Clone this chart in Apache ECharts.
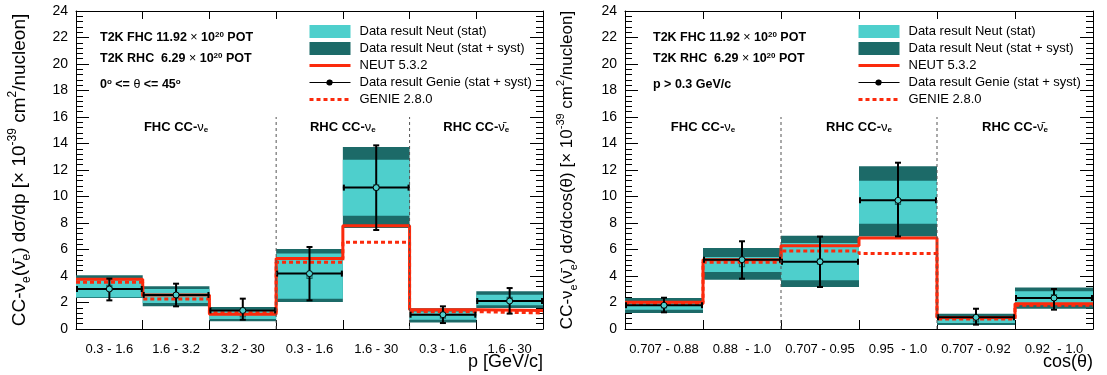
<!DOCTYPE html>
<html>
<head>
<meta charset="utf-8">
<script src="https://cdn.jsdelivr.net/npm/echarts@6/dist/echarts.min.js"></script>
<style>
  html, body { margin: 0; padding: 0; background: #fff; }
  #chart { width: 1107px; height: 375px; }
</style>
</head>
<body>
<div id="chart"></div>
<script>
// ---- momentum bins ----
const pLabels = ['0.3 - 1.6', '1.6 - 3.2', '3.2 - 30', '0.3 - 1.6', '1.6 - 30', '0.3 - 1.6', '1.6 - 30'];
const pNeutCentral = [3.10, 2.50, 1.10, 4.00, 10.70, 1.00, 2.20];
const pStatLow  = [2.40, 1.96, 0.75, 2.29, 8.55, 0.70, 1.79];
const pStatHigh = [3.80, 3.02, 1.46, 5.69, 12.78, 1.33, 2.59];
const pSystLow  = [2.34, 1.71, 0.58, 2.04, 7.62, 0.50, 1.58];
const pSystHigh = [4.05, 3.22, 1.66, 6.04, 13.74, 1.56, 2.84];
const pGenieCentral = [3.02, 2.57, 1.40, 4.18, 10.67, 1.08, 2.11];
const pGenieLow  = [2.16, 1.71, 0.70, 2.16, 7.47, 0.45, 1.16];
const pGenieHigh = [3.80, 3.42, 2.29, 6.19, 13.86, 1.71, 3.09];
const pNeutMC  = [3.75, 2.57, 1.12, 5.33, 7.80, 1.46, 1.40];
const pGenieMC = [3.52, 2.26, 1.22, 5.03, 6.54, 1.31, 1.21];
const pRegions = [[0, 3], [3, 5], [5, 7]];
const pSeparators = [3, 5];

// ---- cos(theta) bins ----
const cLabels = ['0.707 - 0.88', '0.88  - 1.0', '0.707 - 0.95', '0.95  - 1.0', '0.707 - 0.92', '0.92  - 1.0'];
const cNeutCentral = [1.78, 4.90, 5.08, 9.60, 0.72, 2.40];
const cStatLow  = [1.46, 4.30, 3.67, 7.95, 0.45, 1.96];
const cStatHigh = [2.09, 5.43, 6.49, 11.19, 0.96, 2.84];
const cSystLow  = [1.21, 3.72, 3.17, 6.99, 0.30, 1.53];
const cSystHigh = [2.34, 6.11, 7.04, 12.28, 1.16, 3.14];
const cGenieCentral = [1.79, 5.23, 5.08, 9.71, 0.88, 2.34];
const cGenieLow  = [1.26, 3.80, 3.17, 6.99, 0.33, 1.46];
const cGenieHigh = [2.36, 6.62, 6.97, 12.55, 1.53, 3.02];
const cNeutMC  = [2.01, 5.23, 6.29, 6.87, 0.86, 1.91];
const cGenieMC = [1.91, 5.03, 5.89, 5.69, 0.75, 1.79];
const cRegions = [[0, 2], [2, 4], [4, 6]];
const cSeparators = [2, 4];

// ---- shared ----
const sampleNames = ['FHC CC-{nu|ν}{s|e}', 'RHC CC-{nu|ν}{s|e}', 'RHC CC-{nu|ν̄}{s|e}'];
const separatorTop = 16;
const regionLabelY = 15.2;
const yMin = 0, yMax = 24, yStep = 2;

const FONT = '"Liberation Sans", Arial, Helvetica, sans-serif';
const LIGHT = '#4ecfcc';
const DARK = '#1c6a68';
const RED = '#fb2a0c';

const NAMES = {
  stat: 'Data result Neut (stat)',
  syst: 'Data result Neut (stat + syst)',
  neut: 'NEUT 5.3.2',
  genieData: 'Data result Genie (stat + syst)',
  genie: 'GENIE 2.8.0'
};

const panels = [
  {
    labels: pLabels, neut: pNeutCentral, statLow: pStatLow, statHigh: pStatHigh,
    systLow: pSystLow, systHigh: pSystHigh, gc: pGenieCentral, gl: pGenieLow, gh: pGenieHigh,
    neutMC: pNeutMC, genieMC: pGenieMC, regions: pRegions, seps: pSeparators,
    grid: { left: 76, right: 564, top: 11, bottom: 46 },
    xName: 'p [GeV/c]',
    yName: 'CC-{nu|ν}{sub|e}({nu|ν̄}{sub|e}) dσ/dp [× 10{sup|-39} cm{sup|2}/nucleon]',
    yFont: 19, yGap: 43,
    legendLeft: 303, infoLeft: 100,
    cut: '0{sup|o} <= {th|θ} <= 45{sup|o}'
  },
  {
    labels: cLabels, neut: cNeutCentral, statLow: cStatLow, statHigh: cStatHigh,
    systLow: cSystLow, systHigh: cSystHigh, gc: cGenieCentral, gl: cGenieLow, gh: cGenieHigh,
    neutMC: cNeutMC, genieMC: cGenieMC, regions: cRegions, seps: cSeparators,
    grid: { left: 625, right: 14, top: 11, bottom: 46 },
    xName: 'cos(θ)',
    yName: 'CC-{nu|ν}{sub|e}({nu|ν̄}{sub|e}) dσ/dcos(θ) [× 10{sup|-39} cm{sup|2}/nucleon]',
    yFont: 17, yGap: 46,
    legendLeft: 852, infoLeft: 653,
    cut: 'p > 0.3 GeV/c'
  }
];

const grids = [], xAxes = [], yAxes = [], series = [], legends = [], graphics = [];

function boxRenderer(fill, withMarker) {
  return function (params, api) {
    const i = api.value(0);
    const tl = api.coord([i, api.value(2)]);
    const br = api.coord([i + 1, api.value(1)]);
    const children = [{
      type: 'rect',
      shape: { x: tl[0], y: tl[1], width: br[0] - tl[0], height: br[1] - tl[1] },
      style: { fill: fill }
    }];
    if (withMarker) {
      const c = api.coord([i + 0.5, api.value(3)]);
      children.push({
        type: 'rect',
        shape: { x: c[0] - 2.5, y: c[1] - 2.5, width: 5, height: 5 },
        style: { fill: LIGHT, stroke: DARK, lineWidth: 1.2 }
      });
    }
    return { type: 'group', children: children };
  };
}

function errorRenderer(params, api) {
  const i = api.value(0);
  const v = api.value(1);
  const l = api.coord([i, v]);
  const r = api.coord([i + 1, v]);
  const lo = api.coord([i + 0.5, api.value(2)]);
  const hi = api.coord([i + 0.5, api.value(3)]);
  const st = { stroke: '#000', lineWidth: 2 };
  const cap = 3;
  return {
    type: 'group',
    children: [
      { type: 'line', shape: { x1: l[0], y1: l[1], x2: r[0], y2: r[1] }, style: st },
      { type: 'line', shape: { x1: lo[0], y1: lo[1], x2: hi[0], y2: hi[1] }, style: st },
      { type: 'line', shape: { x1: lo[0] - cap, y1: lo[1], x2: lo[0] + cap, y2: lo[1] }, style: st },
      { type: 'line', shape: { x1: hi[0] - cap, y1: hi[1], x2: hi[0] + cap, y2: hi[1] }, style: st },
      { type: 'line', shape: { x1: l[0] + 1, y1: l[1] - cap, x2: l[0] + 1, y2: l[1] + cap }, style: st },
      { type: 'line', shape: { x1: r[0] - 1, y1: r[1] - cap, x2: r[0] - 1, y2: r[1] + cap }, style: st },
      { type: 'circle', shape: { cx: lo[0], cy: l[1], r: 3 }, style: { fill: LIGHT, stroke: '#000', lineWidth: 1 } }
    ]
  };
}

function stepData(vals) {
  const d = vals.map((v, i) => [i, v]);
  d.push([vals.length, vals[vals.length - 1]]);
  return d;
}

const tickStyle = { color: '#000', width: 1 };
const regionRich = {
  nu: { fontFamily: FONT, fontSize: 13, fontWeight: 'normal', color: '#000' },
  s: { fontFamily: FONT, fontSize: 8, fontWeight: 'bold', color: '#000', verticalAlign: 'bottom', lineHeight: 12 }
};

panels.forEach((P, g) => {
  const N = P.labels.length;
  grids.push(Object.assign({ containLabel: false }, P.grid));
  const xb = xAxes.length;
  // bottom value axis (bin edges)
  xAxes.push({
    type: 'value', gridIndex: g, min: 0, max: N, interval: 1, position: 'bottom',
    axisLine: { show: true, onZero: false, lineStyle: tickStyle },
    axisTick: { show: true, inside: true, length: 9, lineStyle: tickStyle },
    axisLabel: { show: false }, splitLine: { show: false },
    name: P.xName, nameLocation: 'end', nameGap: 0,
    nameTextStyle: { fontFamily: FONT, fontSize: 18, color: '#000', align: 'right', verticalAlign: 'top', padding: [24, 0, 0, 0] }
  });
  // bin labels
  xAxes.push({
    type: 'category', gridIndex: g, data: P.labels, position: 'bottom', boundaryGap: true,
    axisLine: { show: false }, axisTick: { show: false },
    axisLabel: { fontFamily: FONT, fontSize: 13, color: '#000', margin: 14, interval: 0 }
  });
  // top frame
  xAxes.push({
    type: 'value', gridIndex: g, min: 0, max: N, interval: 1, position: 'top',
    axisLine: { show: true, onZero: false, lineStyle: tickStyle },
    axisTick: { show: true, inside: true, length: 8, lineStyle: tickStyle },
    axisLabel: { show: false }, splitLine: { show: false }
  });
  const yl = yAxes.length;
  const subSize = Math.round(P.yFont * 0.62);
  yAxes.push({
    type: 'value', gridIndex: g, min: yMin, max: yMax, interval: yStep, position: 'left',
    axisLine: { show: true, onZero: false, lineStyle: tickStyle },
    axisTick: { show: true, inside: true, length: 13, lineStyle: tickStyle },
    minorTick: { show: true, splitNumber: 5, length: 7, lineStyle: tickStyle },
    axisLabel: { fontFamily: FONT, fontSize: 14, color: '#000', margin: 8 },
    splitLine: { show: false }, minorSplitLine: { show: false },
    name: P.yName, nameLocation: 'middle', nameRotate: 90, nameGap: P.yGap,
    nameTextStyle: {
      fontFamily: FONT, fontSize: P.yFont, color: '#000',
      rich: {
        nu: { fontFamily: FONT, fontSize: P.yFont, color: '#000' },
        sub: { fontFamily: FONT, fontSize: subSize, color: '#000', verticalAlign: 'bottom', lineHeight: P.yFont + 7 },
        sup: { fontFamily: FONT, fontSize: subSize, color: '#000', verticalAlign: 'top', lineHeight: P.yFont + 7 }
      }
    }
  });
  yAxes.push({
    type: 'value', gridIndex: g, min: yMin, max: yMax, interval: yStep, position: 'right',
    axisLine: { show: true, onZero: false, lineStyle: tickStyle },
    axisTick: { show: true, inside: true, length: 13, lineStyle: tickStyle },
    minorTick: { show: true, splitNumber: 5, length: 7, lineStyle: tickStyle },
    axisLabel: { show: false }, splitLine: { show: false }
  });

  const common = { xAxisIndex: xb, yAxisIndex: yl, silent: true, animation: false };
  const idx = P.labels.map((_, i) => i);

  series.push(Object.assign({
    type: 'custom', name: NAMES.syst, z: 1, color: DARK,
    renderItem: boxRenderer(DARK, false),
    encode: { x: 0, y: [1, 2] },
    data: idx.map(i => [i, P.systLow[i], P.systHigh[i]])
  }, common));
  series.push(Object.assign({
    type: 'custom', name: NAMES.stat, z: 2, color: LIGHT,
    renderItem: boxRenderer(LIGHT, true),
    encode: { x: 0, y: [1, 2] },
    data: idx.map(i => [i, P.statLow[i], P.statHigh[i], P.neut[i]])
  }, common));
  series.push(Object.assign({
    type: 'line', name: NAMES.neut, z: 3, step: 'end', symbol: 'none', color: RED,
    lineStyle: { color: RED, width: 3 },
    data: stepData(P.neutMC)
  }, common));
  series.push(Object.assign({
    type: 'line', name: NAMES.genie, z: 4, step: 'end', symbol: 'none', color: RED,
    lineStyle: { color: RED, width: 3, type: [4, 3] },
    data: stepData(P.genieMC)
  }, common));
  series.push(Object.assign({
    type: 'custom', name: NAMES.genieData, z: 5, color: '#000',
    renderItem: errorRenderer,
    encode: { x: 0, y: [1, 2, 3] },
    data: idx.map(i => [i, P.gc[i], P.gl[i], P.gh[i]])
  }, common));
  // sample separators
  series.push(Object.assign({
    type: 'custom', z: 6,
    renderItem: function (params, api) {
      const a = api.coord([api.value(0), api.value(1)]);
      const b = api.coord([api.value(0), api.value(2)]);
      return { type: 'line', shape: { x1: a[0], y1: a[1], x2: b[0], y2: b[1] },
        style: { stroke: '#555', lineWidth: 1, lineDash: [3, 3] } };
    },
    data: P.seps.map(s => [s, 0, separatorTop])
  }, common));
  // sample labels
  series.push(Object.assign({
    type: 'custom', z: 6,
    renderItem: function (params, api) {
      const c = api.coord([(api.value(0) + api.value(1)) / 2, regionLabelY]);
      return { type: 'text', x: c[0], y: c[1],
        style: { text: sampleNames[params.dataIndex], fontFamily: FONT, fontSize: 13, fontWeight: 'bold',
          fill: '#000', align: 'center', verticalAlign: 'middle', rich: regionRich } };
    },
    data: P.regions.map(r => [r[0], r[1]])
  }, common));

  legends.push({
    orient: 'vertical', left: P.legendLeft, top: 20, itemWidth: 41, itemHeight: 13, itemGap: 4,
    selectedMode: false,
    textStyle: { fontFamily: FONT, fontSize: 13, color: '#000', padding: [0, 0, 0, 4] },
    data: [
      { name: NAMES.stat, icon: 'rect' },
      { name: NAMES.syst, icon: 'rect' },
      { name: NAMES.neut, itemStyle: { opacity: 0 }, lineStyle: { width: 3, color: RED } },
      { name: NAMES.genieData, icon: 'path://M0,0H0.01V0.01H0Z M0,6H17.2A3,3 0 1 1 17.2,7H0Z M22.8,6H41V7H22.8A3,3 0 1 1 22.8,6Z M0,13H0.01V12.99H0Z' },
      { name: NAMES.genie, itemStyle: { opacity: 0 }, lineStyle: { width: 3, color: RED, type: [4, 3] } }
    ]
  });

  const infoRich = {
    x: { fontFamily: FONT, fontSize: 12.5, fontWeight: 'normal', fill: '#000' },
    sup: { fontFamily: FONT, fontSize: 8, fontWeight: 'bold', fill: '#000', verticalAlign: 'top', lineHeight: 14 },
    th: { fontFamily: FONT, fontSize: 12.5, fontWeight: 'normal', fill: '#000' }
  };
  const infoLines = [
    'T2K FHC 11.92 {x|×} 10{sup|20} POT',
    'T2K RHC  6.29 {x|×} 10{sup|20} POT',
    P.cut
  ];
  const infoTops = [31, 52, 78];
  infoLines.forEach((t, k) => {
    graphics.push({
      type: 'text', left: P.infoLeft, top: infoTops[k], silent: true,
      style: { text: t, fontFamily: FONT, fontSize: 12.5, fontWeight: 'bold', fill: '#000', rich: infoRich }
    });
  });
});

const chart = echarts.init(document.getElementById('chart'), null, { renderer: 'canvas' });
chart.setOption({
  animation: false,
  backgroundColor: '#fff',
  grid: grids,
  xAxis: xAxes,
  yAxis: yAxes,
  legend: legends,
  graphic: graphics,
  series: series
});
</script>
</body>
</html>
